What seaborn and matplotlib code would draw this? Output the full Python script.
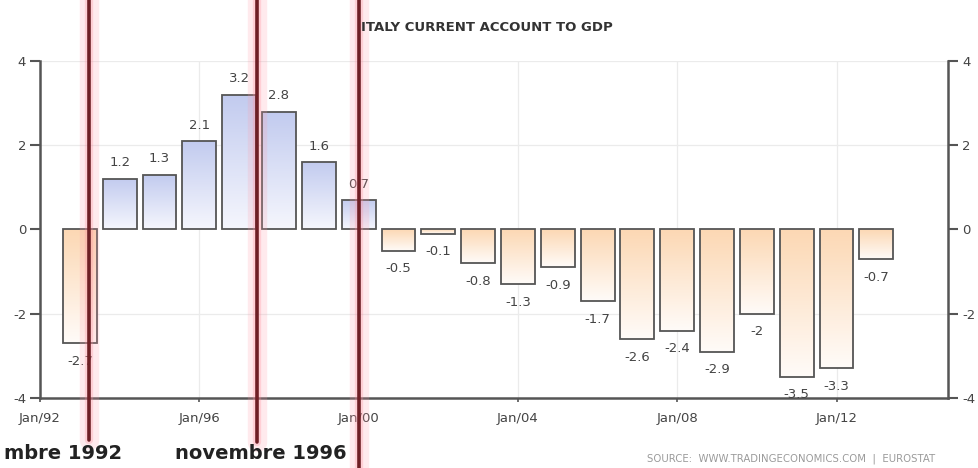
import numpy as np
import pandas as pd
import seaborn as sns
import matplotlib.pyplot as plt
from matplotlib.colors import LinearSegmentedColormap

# Italy current account to GDP (%), yearly
years = [1992, 1993, 1994, 1995, 1996, 1997, 1998, 1999, 2000, 2001, 2002,
         2003, 2004, 2005, 2006, 2007, 2008, 2009, 2010, 2011, 2012]
values = [-2.7, 1.2, 1.3, 2.1, 3.2, 2.8, 1.6, 0.7, -0.5, -0.1, -0.8,
          -1.3, -0.9, -1.7, -2.6, -2.4, -2.9, -2.0, -3.5, -3.3, -0.7]
tick_years = [1992, 1996, 2000, 2004, 2008, 2012]
tick_labels = ["Jan/92", "Jan/96", "Jan/00", "Jan/04", "Jan/08", "Jan/12"]
y_ticks = [-4, -2, 0, 2, 4]
# hand-drawn markers over the chart (first caption is cut by the image edge)
marker_dates = [1993.23, 1997.45, 2000.0]
marker_texts = ["mbre 1992", "novembre 1996"]

# values are plotted at the end of each year
df = pd.DataFrame({"period": [y + 1 for y in years], "value": values})

sns.set_style("white")
plt.rcParams["axes.unicode_minus"] = False
plt.rcParams["font.family"] = ["DejaVu Sans"]

fig = plt.figure(figsize=(9.79, 4.68), dpi=100)
ax = fig.add_axes([0.0409, 0.1496, 0.9275, 0.7201])

sns.barplot(data=df, x="period", y="value", native_scale=True, orient="x",
            width=0.85, color="white", errorbar=None, ax=ax, zorder=3)

pos_cmap = LinearSegmentedColormap.from_list("pos", ["#f5f6fd", "#c2cbef"])
neg_cmap = LinearSegmentedColormap.from_list("neg", ["#fffbf8", "#fcd8b4"])
grad = np.linspace(0, 1, 64).reshape(-1, 1)

for patch, v in zip(ax.patches, df["value"]):
    patch.set_facecolor("none")
    patch.set_edgecolor("#555555")
    patch.set_linewidth(1.3)
    x0 = patch.get_x()
    w = patch.get_width()
    if v >= 0:
        img = ax.imshow(grad, cmap=pos_cmap, origin="lower", aspect="auto",
                        extent=[x0, x0 + w, 0, v], zorder=2)
    else:
        img = ax.imshow(grad, cmap=neg_cmap, origin="lower", aspect="auto",
                        extent=[x0, x0 + w, v, 0], zorder=2)
    img.set_clip_path(patch)

    off = 11.5 if v >= 0 else -13
    ax.annotate(f"{v:g}", (x0 + w / 2, v), xytext=(0, off), textcoords="offset points",
                ha="center", va="center", fontsize=9.5, color="#444444", zorder=5)

ax.set_xlim(1992, 2014.8)
ax.set_ylim(-4, 4)
ax.set_xticks(tick_years)
ax.set_xticklabels(tick_labels)
ax.set_yticks(y_ticks)
ax.set_xlabel("")
ax.set_ylabel("")

for yv in [-2, 2, 4]:
    ax.axhline(yv, color="#ebebeb", lw=0.9, zorder=0)
for xv in tick_years[1:]:
    ax.axvline(xv, color="#ebebeb", lw=0.9, zorder=0)

for side in ["left", "right", "bottom"]:
    ax.spines[side].set_color("#555555")
    ax.spines[side].set_linewidth(1.8)
ax.spines["top"].set_visible(False)

ax.tick_params(axis="y", left=True, right=True, labelleft=True, labelright=True,
               direction="out", length=7, width=1.5, color="#555555",
               labelsize=9.5, labelcolor="#444444", pad=3)
ax.tick_params(axis="x", bottom=True, direction="out", length=3, width=1.2,
               color="#555555", labelsize=9.5, labelcolor="#444444", pad=7)

# red marker lines
bottoms = [-0.125, -0.13, -0.22]
for xv, yb in zip(marker_dates, bottoms):
    ax.axvline(xv, ymin=yb, ymax=1.2, color="#ff9aa8", lw=14, alpha=0.2,
               clip_on=False, zorder=6)
    ax.axvline(xv, ymin=yb, ymax=1.2, color="#ff8a9a", lw=6, alpha=0.28,
               clip_on=False, zorder=6)
    ax.axvline(xv, ymin=yb, ymax=1.2, color="#6e1f25", lw=2.6,
               clip_on=False, zorder=7)

fig.text(0.369, 0.942, "ITALY CURRENT ACCOUNT TO GDP", ha="left", va="center",
         fontsize=9.5, fontweight="bold", color="#333333")
fig.text(0.1246, 0.032, marker_texts[0], ha="right", va="center",
         fontsize=14, fontweight="bold", color="#222222")
fig.text(0.179, 0.032, marker_texts[1], ha="left", va="center",
         fontsize=14, fontweight="bold", color="#222222")
fig.text(0.955, 0.019, "SOURCE:  WWW.TRADINGECONOMICS.COM  |  EUROSTAT",
         ha="right", va="center", fontsize=7.3, color="#9a9a9a")

fig.savefig("out.png", dpi=100, facecolor="white")
